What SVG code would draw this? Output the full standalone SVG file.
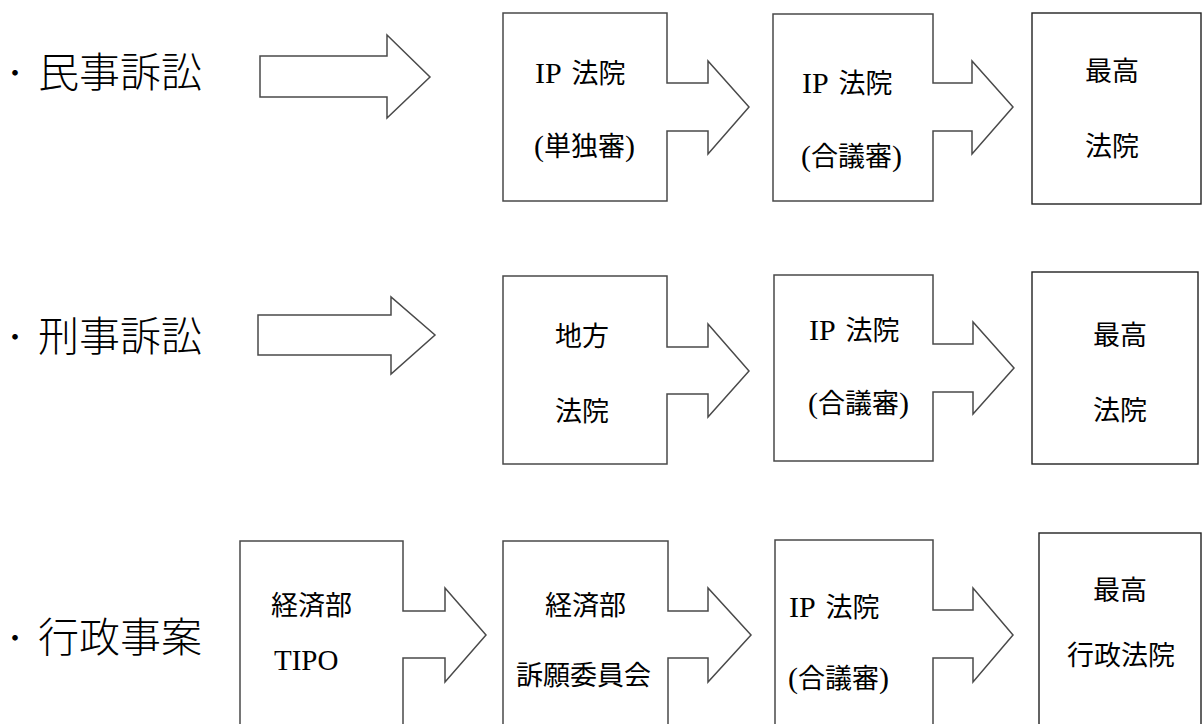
<svg xmlns="http://www.w3.org/2000/svg" width="1203" height="724" viewBox="0 0 1203 724">
<style>
.shape{fill:#fff;stroke:#4a4a4a;stroke-width:1.5;stroke-linejoin:miter}
.box{fill:#fff;stroke:#222;stroke-width:1.4}
.t{font-family:"Liberation Serif","Noto Sans CJK JP",serif;font-size:27px;fill:#000}
.m{text-anchor:middle}
.lat{font-size:30px}
.lbl{font-family:"Noto Sans CJK JP",sans-serif;font-size:41px;font-weight:300;fill:#000}
.bul{font-size:30px}
</style>
<rect width="1203" height="724" fill="#fff"/>
<g id="labels">
<text class="lbl" y="87"><tspan class="bul" x="0" dy="-3">・</tspan><tspan x="38" dy="3">民事訴訟</tspan></text>
<text class="lbl" y="351"><tspan class="bul" x="0" dy="-3">・</tspan><tspan x="38" dy="3">刑事訴訟</tspan></text>
<text class="lbl" y="652"><tspan class="bul" x="0" dy="-3">・</tspan><tspan x="38" dy="3">行政事案</tspan></text>
</g>
<g id="connectors">
<polygon class="shape" points="260,56 387,56 387,35 430,77 387,118 387,97 260,97"/>
<polygon class="shape" points="258,315 391,315 391,297 435,335 391,374 391,355 258,355"/>
</g>
<g id="node-a1">
<polygon class="shape" points="503,13 667,13 667,83 708,83 708,61 749,107 708,154 708,131 667,131 667,201 503,201"/>
<text class="t" x="535" y="83"><tspan class="lat">IP</tspan> <tspan dx="3">法院</tspan></text>
<text class="t" x="534" y="156"><tspan class="lat">(</tspan>単独審<tspan class="lat">)</tspan></text>
</g>
<g id="node-a2">
<polygon class="shape" points="773,14 933,14 933,83 972,83 972,61 1013,107 972,154 972,131 933,131 933,201 773,201"/>
<text class="t" x="802" y="93"><tspan class="lat">IP</tspan> <tspan dx="3">法院</tspan></text>
<text class="t" x="801" y="166"><tspan class="lat">(</tspan>合議審<tspan class="lat">)</tspan></text>
</g>
<g id="node-a3">
<rect class="box" x="1032" y="13" width="169" height="191"/>
<text class="t m" x="1112" y="81">最高</text>
<text class="t m" x="1112" y="156">法院</text>
</g>
<g id="node-b1">
<polygon class="shape" points="503,276 667,276 667,347 708,347 708,324 749,371 708,417 708,394 667,394 667,464 503,464"/>
<text class="t m" x="582" y="346">地方</text>
<text class="t m" x="582" y="421">法院</text>
</g>
<g id="node-b2">
<polygon class="shape" points="774,275 933,275 933,344 973,344 973,322 1014,368 973,414 973,392 933,392 933,461 774,461"/>
<text class="t" x="809" y="340"><tspan class="lat">IP</tspan> <tspan dx="3">法院</tspan></text>
<text class="t" x="808" y="413"><tspan class="lat">(</tspan>合議審<tspan class="lat">)</tspan></text>
</g>
<g id="node-b3">
<rect class="box" x="1032" y="272" width="166" height="192"/>
<text class="t m" x="1120" y="345">最高</text>
<text class="t m" x="1120" y="420">法院</text>
</g>
<g id="node-c1">
<polygon class="shape" points="240,541 403,541 403,611 445,611 445,588 486,635 445,682 445,658 403,658 403,740 240,740"/>
<text class="t" x="271" y="615">経済部</text>
<text class="t" x="274" y="670" style="font-size:29px">TIPO</text>
</g>
<g id="node-c2">
<polygon class="shape" points="503,541 668,541 668,611 708,611 708,588 751,635 708,682 708,658 668,658 668,740 503,740"/>
<text class="t" x="545" y="615">経済部</text>
<text class="t" x="516" y="685">訴願委員会</text>
</g>
<g id="node-c3">
<polygon class="shape" points="775,540 933,540 933,610 973,610 973,588 1013,635 973,682 973,658 933,658 933,740 775,740"/>
<text class="t" x="789" y="617"><tspan class="lat">IP</tspan> <tspan dx="3">法院</tspan></text>
<text class="t" x="788" y="688"><tspan class="lat">(</tspan>合議審<tspan class="lat">)</tspan></text>
</g>
<g id="node-c4">
<rect class="box" x="1039" y="533" width="162" height="210"/>
<text class="t m" x="1120" y="600">最高</text>
<text class="t m" x="1121" y="665">行政法院</text>
</g>
</svg>
